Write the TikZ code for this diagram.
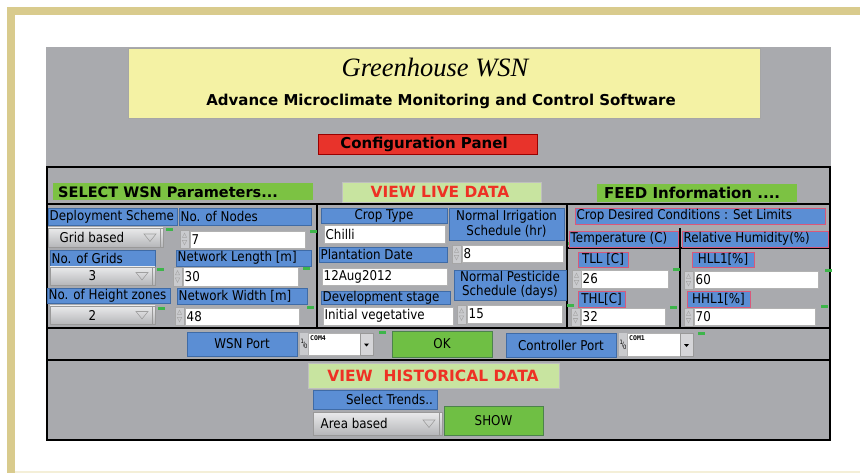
\documentclass[tikz,border=0pt]{standalone}
\usepackage{fontspec}
\setmainfont{DejaVu Sans}
\newfontfamily\uif[FakeStretch=0.88]{DejaVu Sans}
\newfontfamily\titlef{Liberation Serif}
\newfontfamily\monof{DejaVu Sans Mono}
\definecolor{tanc}{HTML}{D9CB8D}
\definecolor{cream}{HTML}{F4EFD8}
\definecolor{panel}{HTML}{A9AAAE}
\definecolor{yel}{HTML}{F4F2A4}
\definecolor{cfgred}{HTML}{E8332B}
\definecolor{lblue}{HTML}{5B8ED4}
\definecolor{lblueb}{HTML}{3F6BA6}
\definecolor{pinkb}{HTML}{D9587A}
\definecolor{grn}{HTML}{7CC243}
\definecolor{lgrn}{HTML}{C8E4A0}
\definecolor{btngrn}{HTML}{6FBF44}
\definecolor{redtxt}{HTML}{EE3124}
\definecolor{indc}{HTML}{3DB54A}
\definecolor{ddgray}{HTML}{CACBCE}
\newcommand\uibox[8]{%
  \pgfmathsetmacro\uiW{#5-#3}\pgfmathsetmacro\uiH{#6-#4}%
  \node[#1, anchor=north west, inner sep=0pt, outer sep=0pt, minimum width=\uiW pt, minimum height=\uiH pt] (#2) at (#3,#4) {};%
  \node[txt-#7] (#2t) at (#2.#7) {#8};}
\newcommand\uiind[3]{\node[indst, anchor=north west, minimum width=7pt, minimum height=2.5pt, inner sep=0pt] (#1) at (#2,#3) {};}
\newcommand\uidrop[7]{%
  \uibox{dd}{#1}{#2}{#3}{#4}{#5}{#6}{#7}%
  \draw[gray!80, line width=0.8pt] ([xshift=-3pt]#1.north east) -- ([xshift=-3pt]#1.south east);
  \draw[gray!75, line width=0.6pt] ([xshift=-19pt,yshift=3.5pt]#1.east) -- ([xshift=-7pt,yshift=3.5pt]#1.east) -- ([xshift=-13pt,yshift=-4pt]#1.east) -- cycle;}
\newcommand\uispin[5]{%
  \uibox{spinst}{#1}{#2}{#3}{#4}{#5}{center}{}%
  \draw[gray!70, line width=0.5pt] ([xshift=-2.2pt,yshift=1.5pt]#1.center) -- ([xshift=2.2pt,yshift=1.5pt]#1.center) -- ([yshift=5.8pt]#1.center) -- cycle;
  \draw[gray!70, line width=0.5pt] ([xshift=-2.2pt,yshift=-1.5pt]#1.center) -- ([xshift=2.2pt,yshift=-1.5pt]#1.center) -- ([yshift=-5.8pt]#1.center) -- cycle;}
\newcommand\uicombo[6]{%
  \pgfmathsetmacro\uiA{#2+8}\pgfmathsetmacro\uiB{#4-13}%
  \uibox{comboic}{#1i}{#2}{#3}{\uiA}{#5}{center}{\fontsize{6}{6}\selectfont\raisebox{2.5pt}{1}\kern-0.8pt/\kern-0.8pt\raisebox{-2.5pt}{0}}%
  \uibox{fld}{#1w}{\uiA}{#3}{\uiB}{#5}{west}{}%
  \node[anchor=north west, inner sep=0pt, font=\monof\bfseries\fontsize{6.5}{6.5}\selectfont] (#1c) at ([xshift=2pt,yshift=-2.5pt]#1w.north west) {#6};
  \uibox{combobtn}{#1b}{\uiB}{#3}{#4}{#5}{center}{}%
  \fill[black] ([xshift=-2.5pt,yshift=0.5pt]#1b.center) -- ([xshift=2.5pt,yshift=0.5pt]#1b.center) -- ([yshift=-2.5pt]#1b.center) -- cycle;}
\begin{document}
\begin{tikzpicture}[x=1pt,y=-1pt,
  every node/.style={font=\uif\fontsize{13.5}{14.5}\selectfont},
  txt-west/.style={anchor=west, xshift=1.5pt, inner sep=0pt},
  txt-center/.style={anchor=center, align=center, inner sep=0pt},
  txt-east/.style={anchor=east, xshift=-4pt, inner sep=0pt},
  bl/.style={fill=lblue, draw=lblueb, line width=0.6pt},
  blp/.style={fill=lblue, draw=pinkb, line width=0.8pt},
  fld/.style={fill=white, draw=gray!60, line width=0.5pt},
  dd/.style={top color=ddgray!40!white, bottom color=ddgray!90!black, draw=gray!80, line width=0.5pt},
  spinst/.style={fill=ddgray, draw=gray!70, line width=0.4pt},
  comboic/.style={fill=ddgray, draw=none},
  combobtn/.style={fill=ddgray!80, draw=gray!80, line width=0.5pt},
  indst/.style={fill=indc, draw=none},
  btn/.style={fill=btngrn, draw=green!30!black!70, line width=0.7pt},
  blk/.style={line width=1.8pt, black}]
\useasboundingbox (0,0) rectangle (860,473);
\fill[white] (0,0) rectangle (860,473);
% frame
\fill[tanc] (7,7) rectangle (860,15);
\fill[tanc] (7,7) rectangle (15,473);
\fill[cream] (15,471) rectangle (860,473);
% panel
\fill[panel] (46,47) rectangle (831,440);
% header
\node[draw=gray!70, fill=yel, line width=0.8pt, anchor=north west, inner sep=0pt, minimum width=632pt, minimum height=70pt] (head) at (128,48) {};
\node[font=\titlef\itshape\fontsize{26.5}{26.5}\selectfont] (title) at (435,68) {Greenhouse WSN};
\node[font=\bfseries\fontsize{15}{15}\selectfont] (sub) at (441,101) {Advance Microclimate Monitoring and Control Software};
\node[fill=cfgred, draw=red!60!black, line width=0.6pt, anchor=north west, inner sep=0pt, minimum width=219pt, minimum height=20pt] (cfg) at (318,134) {};
\node[font=\bfseries\fontsize{15}{15}\selectfont] (cfgt) at (424,144) {Configuration Panel};
% black structure
\draw[line width=2pt] (47,167) rectangle (830,440);
\draw[blk] (47,204) -- (830,204);
\draw[blk] (317,204) -- (317,328);
\draw[blk] (567,204) -- (567,328);
\draw[blk] (680,228) -- (680,328);
\draw[blk] (567,248) -- (830,248);
\draw[blk] (47,328) -- (830,328);
\draw[blk] (47,360) -- (830,360);
% section headers
\node[fill=grn, anchor=north west, minimum width=260pt, minimum height=17pt, inner sep=0pt] (selb) at (53,183) {};
\node[font=\bfseries\fontsize{14.5}{14.5}\selectfont, anchor=west, inner sep=0pt] (selt) at (58,192) {SELECT WSN Parameters...};
\node[fill=lgrn, draw=gray!50, line width=0.5pt, anchor=north west, minimum width=199pt, minimum height=20pt, inner sep=0pt] (liveb) at (342,182) {};
\node[font=\bfseries\fontsize{15.4}{15.4}\selectfont, text=redtxt, inner sep=0pt] (livet) at (440,192) {VIEW LIVE DATA};
\node[fill=grn, anchor=north west, minimum width=200pt, minimum height=18pt, inner sep=0pt] (feedb) at (597,184) {};
\node[font=\bfseries\fontsize{15}{15}\selectfont, anchor=west, inner sep=0pt] (feedt) at (604,193) {FEED Information ....};
% left section
\uibox{bl}{dep}{48}{208}{177}{225}{west}{Deployment Scheme}
\uibox{bl}{nnl}{179}{208}{311}{225}{west}{No. of  Nodes}
\uidrop{depd}{48}{228}{163}{247}{west}{\hspace{10pt}Grid based}
\uiind{g1}{166}{228}
\uispin{s1}{180}{230}{189}{248}
\uibox{fld}{f1}{190}{231}{305}{248}{west}{7}
\uiind{g2}{310}{230}
\uibox{bl}{ngl}{50}{250}{155}{266}{west}{No. of Grids}
\uibox{bl}{nll}{176}{250}{311}{266}{west}{Network Length [m]}
\uidrop{ngd}{50}{267}{155}{285}{center}{\hspace{-20pt}3}
\uiind{g3}{157}{268}
\uispin{s2}{173}{267}{182}{286}
\uibox{fld}{f2}{183}{267}{298}{286}{west}{30}
\uiind{g4}{303}{267}
\uibox{bl}{nhl}{47}{288}{170}{303}{west}{No. of Height zones}
\uibox{bl}{nwl}{177}{288}{307}{304}{west}{Network Width [m]}
\uiind{g5}{307}{306}
\uidrop{nhd}{50}{306}{155}{324}{center}{\hspace{-20pt}2}
\uiind{g6}{158}{307}
\uispin{s3}{175}{307}{184}{325}
\uibox{fld}{f3}{185}{308}{299}{325}{west}{48}
% middle section
\uibox{bl}{ctl}{321}{208}{447}{223}{center}{Crop Type}
\uibox{bl}{nil}{449}{208}{564}{240}{center}{Normal Irrigation\\Schedule (hr)}
\uibox{fld}{f4}{324}{225}{445}{243}{west}{Chilli}
\uibox{bl}{pdl}{319}{247}{447}{262}{west}{Plantation Date}
\uispin{s4}{452}{245}{461}{263}
\uibox{fld}{f5}{462}{245}{563}{262}{west}{8}
\uibox{fld}{f6}{322}{268}{447}{285}{west}{12Aug2012}
\uibox{bl}{npl}{454}{270}{566}{300}{center}{Normal Pesticide\\Schedule (days)}
\uibox{bl}{dsl}{321}{291}{450}{304}{west}{Development stage}
\uibox{fld}{f7}{323}{307}{453}{325}{west}{Initial vegetative}
\uispin{s5}{457}{305}{466}{324}
\uibox{fld}{f8}{467}{305}{562}{323}{west}{15}
\uiind{g7}{568}{242}
\uiind{g8}{567}{304}
% right section
\uibox{blp}{cdl}{575}{208}{825}{224}{west}{Crop  Desired Conditions :  Set  Limits}
\uibox{blp}{tel}{569}{231}{678}{247}{west}{Temperature (C)}
\uibox{blp}{rhl}{682}{231}{828}{247}{west}{Relative Humidity(\%)}
\uibox{blp}{tll}{578}{252}{628}{267}{center}{TLL [C]}
\uibox{blp}{hll}{692}{252}{754}{267}{center}{HLL1[\%]}
\uispin{s6}{572}{270}{581}{288}
\uibox{fld}{f9}{581}{270}{668}{288}{west}{26}
\uiind{g9}{673}{268}
\uispin{s7}{684}{271}{693}{289}
\uibox{fld}{f10}{694}{271}{818}{288}{west}{60}
\uiind{g10}{825}{269}
\uibox{blp}{thl}{578}{291}{625}{307}{center}{THL[C]}
\uibox{blp}{hhl}{687}{291}{750}{307}{center}{HHL1[\%]}
\uispin{s8}{571}{308}{580}{326}
\uibox{fld}{f11}{581}{308}{665}{325}{west}{32}
\uiind{g11}{670}{306}
\uispin{s9}{684}{308}{693}{326}
\uibox{fld}{f12}{694}{308}{815}{325}{west}{70}
\uiind{g12}{821}{305}
% ports row
\uibox{bl}{wsnp}{187}{332}{297}{356}{center}{WSN  Port}
\uicombo{com4}{300}{333}{373}{355}{COM4}
\uiind{g13}{379}{331}
\uibox{btn}{okb}{392}{331}{492}{357}{center}{OK}
\uibox{bl}{ctrp}{506}{333}{616}{357}{center}{Controller Port}
\uicombo{com1}{619}{333}{693}{356}{COM1}
\uiind{g14}{698}{332}
% historical
\node[fill=lgrn, draw=gray!50, line width=0.5pt, anchor=north west, minimum width=251pt, minimum height=25pt, inner sep=0pt] (histb) at (308,363) {};
\node[font=\bfseries\fontsize{15.5}{15.5}\selectfont, text=redtxt, inner sep=0pt] (histt) at (433,375.5) {VIEW\ \ HISTORICAL DATA};
\uibox{bl}{strl}{313}{390}{437}{409}{east}{Select Trends..}
\uidrop{abd}{313}{412}{442}{435}{west}{\hspace{6pt}Area based}
\uibox{btn}{showb}{444}{406}{543}{435}{center}{SHOW}
\end{tikzpicture}
\end{document}
